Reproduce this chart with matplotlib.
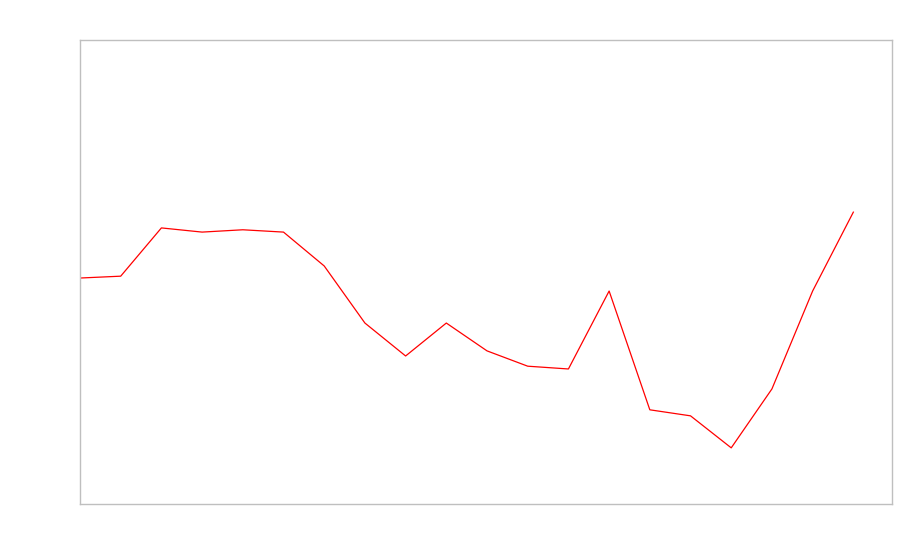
import matplotlib
matplotlib.use("Agg")
import matplotlib.pyplot as plt

x_index = list(range(20))
values = [48.7, 49.1, 59.5, 58.6, 59.1, 58.6, 51.3, 39.0, 31.9, 39.0,
          33.0, 29.7, 29.1, 45.9, 20.3, 19.0, 12.1, 24.8, 45.9, 62.9]

fig = plt.figure(figsize=(9, 5.6), dpi=100)
ax = fig.add_axes([80/900, 56/560, 812/900, 464/560])
ax.plot(x_index, values, color="red", linewidth=0.9)
ax.set_xlim(0, 19.95)
ax.set_ylim(0, 100)
ax.set_xticks([])
ax.set_yticks([])
for s in ax.spines.values():
    s.set_color("#bfbfbf")
    s.set_linewidth(1)
fig.savefig("out.png", dpi=100)
